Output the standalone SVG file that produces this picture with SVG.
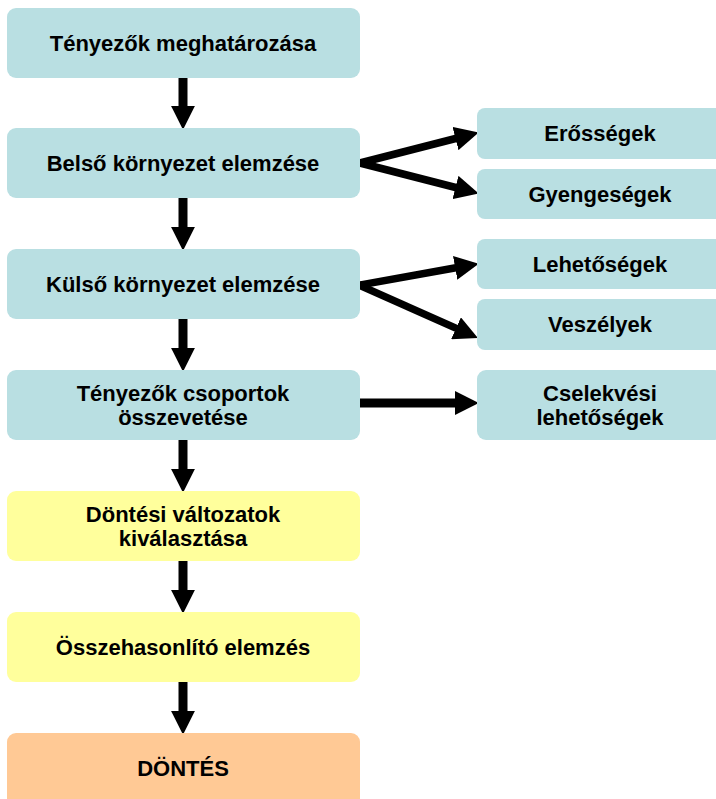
<svg xmlns="http://www.w3.org/2000/svg" width="716" height="799" viewBox="0 0 716 799">
<style>
.teal{fill:#b9dfe2}
.yel{fill:#ffff9c}
.org{fill:#ffc995}
text{font-family:"Liberation Sans",Arial,sans-serif;font-weight:bold;font-size:22px;fill:#000;text-anchor:middle}
.c line{stroke:#000;stroke-width:9;marker-end:url(#ah)}
.c .d{stroke-width:7.5}
</style>
<defs>
<marker id="ah" markerUnits="userSpaceOnUse" markerWidth="24" markerHeight="24" refX="2" refY="11" orient="auto" viewBox="0 0 22 22">
<path d="M0,0 L22,11 L0,22 z" fill="#000"/>
</marker>
</defs>
<rect width="716" height="799" fill="#fff"/>
<g class="c" id="connectors">
<line x1="183" y1="78" x2="183" y2="108"/>
<line x1="183" y1="198" x2="183" y2="229"/>
<line x1="183" y1="319" x2="183" y2="350"/>
<line x1="183" y1="440" x2="183" y2="471"/>
<line x1="183" y1="561" x2="183" y2="592"/>
<line x1="183" y1="682" x2="183" y2="713"/>
<line class="d" x1="358" y1="163.5" x2="457.6" y2="138"/>
<line class="d" x1="358" y1="162.5" x2="457.6" y2="188"/>
<line class="d" x1="358" y1="285.4" x2="457.3" y2="267.5"/>
<line class="d" x1="358" y1="284.6" x2="458" y2="329.2"/>
<line x1="360" y1="403" x2="457" y2="403"/>
</g>
<g id="n1"><rect class="teal" x="7" y="8" width="353" height="70" rx="9"/><text x="183" y="51">Tényezők meghatározása</text></g>
<g id="n2"><rect class="teal" x="7" y="128" width="353" height="70" rx="9"/><text x="183" y="171">Belső környezet elemzése</text></g>
<g id="n3"><rect class="teal" x="7" y="249" width="353" height="70" rx="9"/><text x="183" y="292">Külső környezet elemzése</text></g>
<g id="n4"><rect class="teal" x="7" y="370" width="353" height="70" rx="9"/><text x="183" y="401">Tényezők csoportok</text><text x="183" y="425">összevetése</text></g>
<g id="n5"><rect class="yel" x="7" y="491" width="353" height="70" rx="9"/><text x="183" y="522">Döntési változatok</text><text x="183" y="546">kiválasztása</text></g>
<g id="n6"><rect class="yel" x="7" y="612" width="353" height="70" rx="9"/><text x="183" y="655">Összehasonlító elemzés</text></g>
<g id="n7"><rect class="org" x="7" y="733" width="353" height="75" rx="9"/><text x="183" y="776">DÖNTÉS</text></g>
<g id="r1"><rect class="teal" x="477" y="108" width="246" height="51" rx="8"/><text x="600" y="141">Erősségek</text></g>
<g id="r2"><rect class="teal" x="477" y="169" width="246" height="50" rx="8"/><text x="600" y="202">Gyengeségek</text></g>
<g id="r3"><rect class="teal" x="477" y="239" width="246" height="50" rx="8"/><text x="600" y="272">Lehetőségek</text></g>
<g id="r4"><rect class="teal" x="477" y="299" width="246" height="51" rx="8"/><text x="600" y="332">Veszélyek</text></g>
<g id="r5"><rect class="teal" x="477" y="370" width="246" height="70" rx="9"/><text x="600" y="401">Cselekvési</text><text x="600" y="425">lehetőségek</text></g>
</svg>
